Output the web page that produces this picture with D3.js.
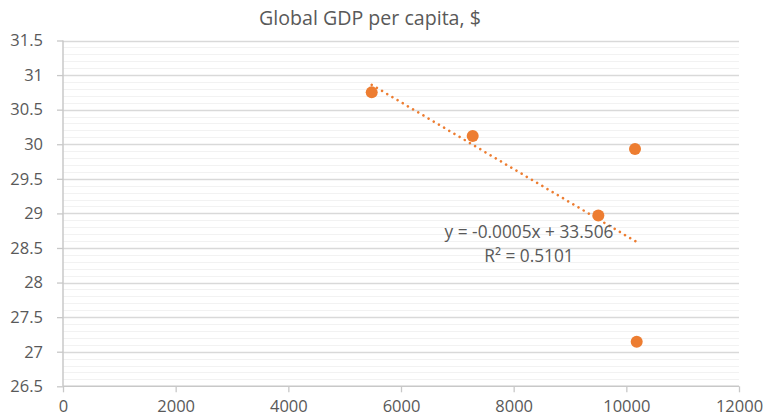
<!DOCTYPE html>
<html>
<head>
<meta charset="utf-8">
<script src="https://cdn.jsdelivr.net/npm/d3@7"></script>
<style>
  html, body { margin: 0; padding: 0; background: #fff; }
  text { font-family: "Open Sans", "Liberation Sans", sans-serif; fill: #595959; }
</style>
</head>
<body>
<svg id="chart" width="766" height="420"></svg>
<script>
// GDP per capita (x) against the indicator value (y)
const gdpPerCapita = [5480, 7273, 10154, 9503, 10184];
const indicator    = [30.75, 30.12, 29.93, 28.97, 27.145];

// Linear trendline coefficients and fit quality
const trendSlope = -0.000483;
const trendIntercept = 33.506;
const trendR2 = 0.5101;

const xTicks = [0, 2000, 4000, 6000, 8000, 10000, 12000];
const yTicks = [26.5, 27, 27.5, 28, 28.5, 29, 29.5, 30, 30.5, 31, 31.5];
const chartTitle = "Global GDP per capita, $";

const svg = d3.select("#chart");
const W = 766, H = 420;
const m = { left: 63, right: 27, top: 40.5, bottom: 33.7 };

const x = d3.scaleLinear().domain([0, 12000]).range([m.left, W - m.right]);
const y = d3.scaleLinear().domain([26.5, 31.5]).range([H - m.bottom, m.top]);

// minor gridlines every 0.1
const minor = d3.range(265, 316).map(v => v / 10).filter(v => Math.abs(v * 2 - Math.round(v * 2)) > 1e-6);
svg.append("g").selectAll("line").data(minor).join("line")
  .attr("x1", x(0)).attr("x2", x(12000))
  .attr("y1", d => Math.round(y(d)) + 0.5).attr("y2", d => Math.round(y(d)) + 0.5)
  .attr("stroke", "#F2F2F2").attr("stroke-width", 1);

// major gridlines
svg.append("g").selectAll("line").data(yTicks.slice(1)).join("line")
  .attr("x1", x(0)).attr("x2", x(12000))
  .attr("y1", d => Math.round(y(d)) + 0.5).attr("y2", d => Math.round(y(d)) + 0.5)
  .attr("stroke", "#D9D9D9").attr("stroke-width", 1.3);

// y axis
const yAxis = svg.append("g")
  .attr("transform", `translate(${x(0)},0)`)
  .call(d3.axisLeft(y).tickValues(yTicks).tickSize(6).tickPadding(14).tickFormat(d3.format("")));
// x axis
const xAxis = svg.append("g")
  .attr("transform", `translate(0,${y(26.5)})`)
  .call(d3.axisBottom(x).tickValues(xTicks).tickSize(6).tickPadding(8).tickFormat(d3.format("")));

[yAxis, xAxis].forEach(g => {
  g.select(".domain").attr("stroke", "#C8C8C8").attr("stroke-width", 1.5);
  g.selectAll(".tick line").attr("stroke", "#C8C8C8").attr("stroke-width", 1.3);
  g.selectAll(".tick text").attr("font-size", 16.5).attr("fill", "#595959")
    .attr("font-family", "'Open Sans', sans-serif");
});
// domain paths without end stubs
yAxis.select(".domain").attr("d", `M0,${y(31.5)}V${y(26.5)}`);
xAxis.select(".domain").attr("d", `M${x(0)},0H${x(12000)}`);

// trendline across the data range
const xMin = d3.min(gdpPerCapita), xMax = d3.max(gdpPerCapita);
svg.append("line")
  .attr("x1", x(xMin)).attr("y1", y(trendIntercept + trendSlope * xMin))
  .attr("x2", x(xMax)).attr("y2", y(trendIntercept + trendSlope * xMax))
  .attr("stroke", "#ED7D31").attr("stroke-width", 2.6)
  .attr("stroke-linecap", "round").attr("stroke-dasharray", "0.01 6");

// points
svg.append("g").selectAll("circle").data(gdpPerCapita).join("circle")
  .attr("cx", d => x(d)).attr("cy", (d, i) => y(indicator[i]))
  .attr("r", 6).attr("fill", "#ED7D31");

// equation label (plain hyphen-minus for the sign)
const slopeText = trendSlope.toFixed(4);
svg.append("text").attr("x", 529).attr("y", 238).attr("text-anchor", "middle")
  .attr("font-size", 17.3)
  .text(`y = ${slopeText}x + ${trendIntercept}`);
svg.append("text").attr("x", 529).attr("y", 262).attr("text-anchor", "middle")
  .attr("font-size", 17.3)
  .text(`R² = ${trendR2}`);

// title
svg.append("text").attr("x", 370).attr("y", 25).attr("text-anchor", "middle")
  .attr("font-size", 19.6).text(chartTitle);
</script>
</body>
</html>
